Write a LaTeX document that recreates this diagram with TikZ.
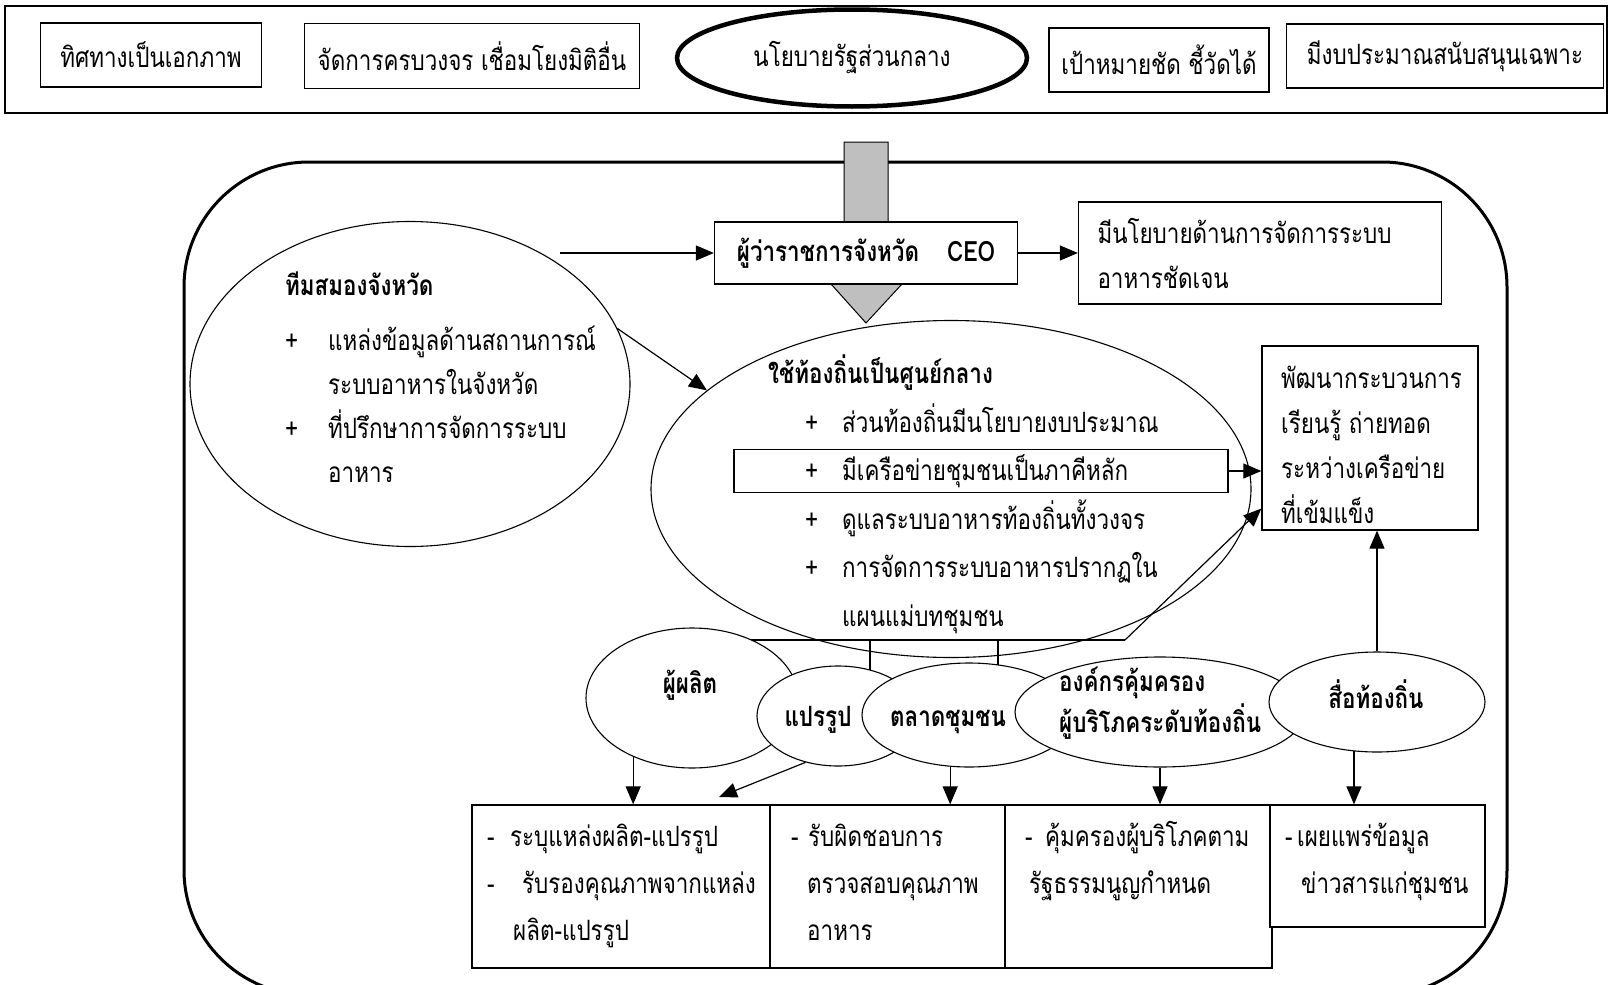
\documentclass[tikz,border=0pt]{standalone}
\usepackage{fontspec}
\setmainfont[Script=Thai,FakeStretch=0.8]{Loma}
\usetikzlibrary{shapes.geometric,arrows.meta}

\begin{document}
\begin{tikzpicture}[
x=1pt, y=-1pt,
font=\fontsize{28}{45}\selectfont,
>={Triangle[length=18pt,width=15pt]},
box/.style={draw, line width=1.3pt, fill=white, inner sep=0pt},
blob/.style={draw, ellipse, line width=1.1pt, fill=white, inner sep=0pt},
txt/.style={anchor=base west, align=left, inner sep=0pt},
link/.style={->, line width=1.2pt},
]
\useasboundingbox (0,0) rectangle (1610,985);
\draw[line width=1.5pt] (5,6) rectangle (1607,113);
\node[box, minimum width=221pt, minimum height=64pt] (dirBox) at (151,55) {ทิศทางเป็นเอกภาพ};
\node[box, minimum width=335pt, minimum height=65pt] (loopBox) at (472,56) {จัดการครบวงจร เชื่อมโยงมิติอื่น};
\node[blob, line width=4.5pt, minimum width=350pt, minimum height=97pt] (policy) at (852,58) {นโยบายรัฐส่วนกลาง};
\node[box, minimum width=220pt, minimum height=64pt] (goalBox) at (1159,60) {เป้าหมายชัด ชี้วัดได้};
\node[box, minimum width=317pt, minimum height=64pt] (fundBox) at (1445,56) {มีงบประมาณสนับสนุนเฉพาะ};

\draw[line width=3pt, rounded corners=125pt] (184,162) rectangle (1507,995);
\draw[line width=1pt, fill=gray!50] (844,142) -- (888,142) -- (888,284) -- (902,284)
  -- (866,323) -- (831,284) -- (844,284) -- cycle;

\node[box, minimum width=303pt, minimum height=62pt] (ceo) at (866,253) {\bfseries ผู้ว่าราชการจังหวัด\quad CEO};
\node[box, align=left, text width=325pt, inner xsep=19pt, minimum height=102pt] (plan) at (1260,253)
  {มีนโยบายด้านการจัดการระบบ\\อาหารชัดเจน};

\node[blob, minimum width=440pt, minimum height=325pt] (brain) at (410,384) {};
\node[txt] (brainT) at (285,295) {\bfseries ทีมสมองจังหวัด};
\node[txt, font=\fontsize{28}{44}\selectfont] (brainL) at (285,482) {\makebox[43pt][l]{+}แหล่งข้อมูลด้านสถานการณ์\\\hspace*{43pt}ระบบอาหารในจังหวัด\\\makebox[43pt][l]{+}ที่ปรึกษาการจัดการระบบ\\\hspace*{43pt}อาหาร};

\node[blob, minimum width=600pt, minimum height=337pt] (local) at (951,489) {};
\node[draw, line width=1.1pt, minimum width=494pt, minimum height=43pt, inner sep=0pt] (net) at (981,471) {};
\node[txt] (localT) at (768,383) {\bfseries ใช้ท้องถิ่นเป็นศูนย์กลาง};
\node[txt, font=\fontsize{28}{48.5}\selectfont] (localL) at (805,626) {\makebox[37pt][l]{+}ส่วนท้องถิ่นมีนโยบายงบประมาณ\\\makebox[37pt][l]{+}มีเครือข่ายชุมชนเป็นภาคีหลัก\\\makebox[37pt][l]{+}ดูแลระบบอาหารท้องถิ่นทั้งวงจร\\\makebox[37pt][l]{+}การจัดการระบบอาหารปรากฏใน\\\hspace*{37pt}แผนแม่บทชุมชน};

\node[box, minimum width=216pt, minimum height=184pt] (dev) at (1370,438) {};
\node[txt] (devT) at (1281,523) {พัฒนากระบวนการ\\เรียนรู้ ถ่ายทอด\\ระหว่างเครือข่าย\\ที่เข้มแข็ง};

\coordinate (brainOut) at (560,253);
\draw[link] (brainOut) -- (ceo.west);
\draw[link] (ceo.east) -- (plan.west);
\draw[link] (brain.15) -- (local.158);
\draw[link] (net.east) -- (net.east -| dev.west);

\coordinate (brkL) at (700,640);
\coordinate (brkR) at (1125,640);
\draw[line width=1.1pt] (brkL) -- (brkR);
\draw[line width=1.1pt] (870,640) -- (870,690);
\draw[line width=1.1pt] (998,640) -- (998,690);
\draw[link] (brkR) -- (dev.213);

\node[blob, minimum width=212pt, minimum height=140pt] (prodE) at (692,698) {};
\node[blob, minimum width=162pt, minimum height=100pt] (procE) at (838,716) {};
\node[blob, minimum width=214pt, minimum height=104pt] (mktE) at (969,715) {};
\node[blob, minimum width=290pt, minimum height=110pt] (orgE) at (1160,712) {};
\node[blob, minimum width=216pt, minimum height=100pt] (mediaE) at (1377,702) {};
\node[anchor=base, inner sep=0pt] (prodT) at (690,693) {\bfseries ผู้ผลิต};
\node[anchor=base, inner sep=0pt] (procT) at (818,726) {\bfseries แปรรูป};
\node[anchor=base, inner sep=0pt] (mktT) at (948,726) {\bfseries ตลาดชุมชน};
\node[txt, font=\fontsize{28}{41}\selectfont] (orgT) at (1059,732) {\bfseries องค์กรคุ้มครอง\\\bfseries ผู้บริโภคระดับท้องถิ่น};
\node[anchor=base, inner sep=0pt] (mediaT) at (1376,708) {\bfseries สื่อท้องถิ่น};

\draw[link] (mediaE.north) -- (mediaE.north |- dev.south);

\node[box, minimum width=298pt, minimum height=163pt] (tabA) at (621,886.5) {};
\node[box, minimum width=235pt, minimum height=163pt] (tabB) at (887.5,886.5) {};
\node[box, minimum width=267pt, minimum height=163pt] (tabC) at (1138.5,886.5) {};
\node[box, minimum width=215pt, minimum height=122pt] (tabD) at (1377.5,866) {};
\node[txt, font=\fontsize{28}{47}\selectfont] (tabAT) at (487,940) {\makebox[23pt][l]{-}ระบุแหล่งผลิต-แปรรูป\\\makebox[35pt][l]{-}รับรองคุณภาพจากแหล่ง\\\hspace*{26pt}ผลิต-แปรรูป};
\node[txt, font=\fontsize{28}{47}\selectfont] (tabBT) at (791,940) {\makebox[17pt][l]{-}รับผิดชอบการ\\\hspace*{16pt}ตรวจสอบคุณภาพ\\\hspace*{16pt}อาหาร};
\node[txt, font=\fontsize{28}{47}\selectfont] (tabCT) at (1025,893) {\makebox[20pt][l]{-}คุ้มครองผู้บริโภคตาม\\\hspace*{4pt}รัฐธรรมนูญกำหนด};
\node[txt, font=\fontsize{28}{47}\selectfont] (tabDT) at (1285,893) {\makebox[12pt][l]{-}เผยแพร่ข้อมูล\\\hspace*{16pt}ข่าวสารแก่ชุมชน};

\coordinate (procTip) at (719,797);
\draw[link] (prodE.225) -- (prodE.225 |- tabA.north);
\draw[link] (procE.235) -- (procTip);
\draw[link] (mktE.250) -- (mktE.250 |- tabB.north);
\draw[link] (orgE.south) -- (orgE.south |- tabC.north);
\draw[link] (mediaE.245) -- (mediaE.245 |- tabD.north);
\end{tikzpicture}
\end{document}
